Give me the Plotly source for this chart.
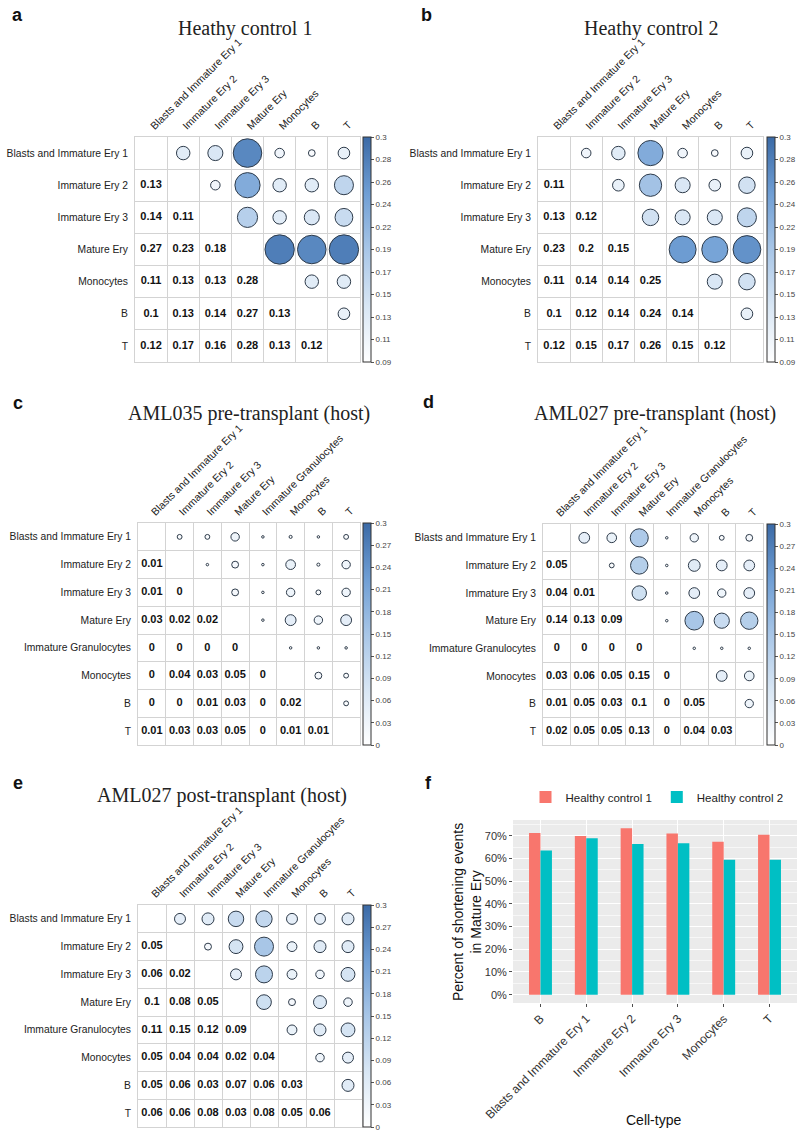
import math
import plotly.graph_objects as go

W, H = 800, 1133

# ---------------- data ----------------
cats7 = ["Blasts and Immature Ery 1", "Immature Ery 2", "Immature Ery 3", "Mature Ery",
         "Monocytes", "B", "T"]
cats8 = ["Blasts and Immature Ery 1", "Immature Ery 2", "Immature Ery 3", "Mature Ery",
         "Immature Granulocytes", "Monocytes", "B", "T"]

# lower-triangle values (row i, columns 0..i-1)
hc1_lower = [[], [0.13], [0.14, 0.11], [0.27, 0.23, 0.18], [0.11, 0.13, 0.13, 0.28],
             [0.10, 0.13, 0.14, 0.27, 0.13], [0.12, 0.17, 0.16, 0.28, 0.13, 0.12]]
hc2_lower = [[], [0.11], [0.13, 0.12], [0.23, 0.20, 0.15], [0.11, 0.14, 0.14, 0.25],
             [0.10, 0.12, 0.14, 0.24, 0.14], [0.12, 0.15, 0.17, 0.26, 0.15, 0.12]]
aml035_pre_lower = [[], [0.01], [0.01, 0.0], [0.03, 0.02, 0.02], [0.0, 0.0, 0.0, 0.0],
                    [0.004, 0.04, 0.03, 0.05, 0.0], [0.0, 0.004, 0.01, 0.03, 0.0, 0.02],
                    [0.01, 0.03, 0.03, 0.05, 0.0, 0.01, 0.01]]
aml027_pre_lower = [[], [0.05], [0.04, 0.01], [0.14, 0.13, 0.09], [0.0, 0.0, 0.0, 0.0],
                    [0.03, 0.06, 0.05, 0.15, 0.0], [0.01, 0.05, 0.03, 0.10, 0.0, 0.05],
                    [0.02, 0.05, 0.05, 0.13, 0.0, 0.04, 0.03]]
aml027_post_lower = [[], [0.05], [0.06, 0.02], [0.10, 0.08, 0.05], [0.11, 0.15, 0.12, 0.09],
                     [0.05, 0.04, 0.04, 0.02, 0.04], [0.05, 0.06, 0.03, 0.07, 0.06, 0.03],
                     [0.06, 0.06, 0.08, 0.03, 0.08, 0.05, 0.06]]

cb_ticks_hc = ["0.09", "0.11", "0.13", "0.15", "0.17", "0.19", "0.22", "0.24", "0.26", "0.28", "0.3"]
cb_ticks_aml = ["0", "0.03", "0.06", "0.09", "0.12", "0.15", "0.18", "0.21", "0.24", "0.27", "0.3"]

bar_cats = ["B", "Blasts and Immature Ery 1", "Immature Ery 2", "Immature Ery 3", "Monocytes", "T"]
bar_hc1 = [71.3, 70.0, 73.4, 71.0, 67.4, 70.5]
bar_hc2 = [63.6, 68.9, 66.4, 66.7, 59.5, 59.5]

# ---------------- style ----------------
SANS = "Liberation Sans, Arial, sans-serif"
SERIF = "Liberation Serif, Times New Roman, serif"
CSCALE = [[0, "#FFFFFF"], [0.25, "#D8E6F4"], [0.5, "#A8C6E7"], [0.75, "#6F9ED4"], [1, "#3B6AA6"]]
GRID = "#D3D3D3"

fig = go.Figure()
annotations = []
layout = {}


def px_x(p):
    return p / W


def px_y(p):
    return 1 - p / H


panels = [
    dict(title="Heathy control 1", cats=cats7, lower=hc1_lower, lo=0.09, hi=0.3, ticks=cb_ticks_hc,
         box=(135, 137, 360, 362), tpos=(245, 28), letter="a", lpos=(17, 15), cbx=363),
    dict(title="Heathy control 2", cats=cats7, lower=hc2_lower, lo=0.09, hi=0.3, ticks=cb_ticks_hc,
         box=(538, 137, 763, 362), tpos=(651, 28), letter="b", lpos=(427, 15), cbx=767),
    dict(title="AML035 pre-transplant (host)", cats=cats8, lower=aml035_pre_lower, lo=0.0, hi=0.3,
         ticks=cb_ticks_aml, box=(138, 523, 360, 745), tpos=(249, 413), letter="c", lpos=(18, 403), cbx=363),
    dict(title="AML027 pre-transplant (host)", cats=cats8, lower=aml027_pre_lower, lo=0.0, hi=0.3,
         ticks=cb_ticks_aml, box=(543, 524, 763, 745), tpos=(655, 413), letter="d", lpos=(428, 402), cbx=767),
    dict(title="AML027 post-transplant (host)", cats=cats8, lower=aml027_post_lower, lo=0.0, hi=0.3,
         ticks=cb_ticks_aml, box=(138, 905, 362, 1127), tpos=(222, 795), letter="e", lpos=(18, 783), cbx=363),
]


def fmt(v):
    return f"{round(v, 2):g}"


for k, p in enumerate(panels, start=1):
    cats = p["cats"]
    n = len(cats)
    full = [[None] * n for _ in range(n)]
    for i, row in enumerate(p["lower"]):
        for j, v in enumerate(row):
            full[i][j] = v
            full[j][i] = v
    x0, y0, x1, y1 = p["box"]
    cell = (x1 - x0) / n
    lo, hi = p["lo"], p["hi"]
    xs, ys, vs, sz = [], [], [], []
    tx, ty, tt = [], [], []
    for i in range(n):
        for j in range(n):
            if j > i:
                v = full[i][j]
                xs.append(j)
                ys.append(i)
                vs.append(v)
                frac = max(0.0, (v - lo) / (hi - lo))
                sz.append(max(2.5, cell * 0.96 * math.sqrt(frac)))
            elif j < i:
                tx.append(j)
                ty.append(i)
                tt.append(fmt(full[i][j]))
    suf = "" if k == 1 else str(k)
    cax = "coloraxis" + suf
    fig.add_trace(go.Scatter(
        x=xs, y=ys, mode="markers", xaxis="x" + suf, yaxis="y" + suf,
        marker=dict(size=sz, sizemode="diameter", color=vs, coloraxis=cax,
                    line=dict(color="#2E3B4A", width=1), opacity=1),
        showlegend=False, hoverinfo="skip"))
    fig.add_trace(go.Scatter(
        x=tx, y=ty, mode="text", text=tt, xaxis="x" + suf, yaxis="y" + suf,
        textfont=dict(family=SANS, size=11, color="#111111", weight="bold"),
        showlegend=False, hoverinfo="skip"))
    half = [h + 0.5 for h in range(n - 1)]
    layout["xaxis" + suf] = dict(
        domain=[px_x(x0), px_x(x1)], anchor="y" + suf, side="top", range=[-0.5, n - 0.5],
        tickmode="array", tickvals=list(range(n)), ticktext=cats, tickangle=-45,
        tickfont=dict(family=SANS, size=10.5, color="#222222"), ticks="", showgrid=False,
        zeroline=False, showline=True, mirror=True, linecolor=GRID, linewidth=1,
        minor=dict(tickmode="array", tickvals=half, showgrid=True, gridcolor=GRID, gridwidth=1, ticks=""),
        automargin=False, fixedrange=True)
    layout["yaxis" + suf] = dict(
        domain=[px_y(y1), px_y(y0)], anchor="x" + suf, range=[n - 0.5, -0.5],
        tickmode="array", tickvals=list(range(n)), ticktext=cats,
        tickfont=dict(family=SANS, size=10.3, color="#222222"), ticks="", showgrid=False,
        zeroline=False, showline=True, mirror=True, linecolor=GRID, linewidth=1,
        minor=dict(tickmode="array", tickvals=half, showgrid=True, gridcolor=GRID, gridwidth=1, ticks=""),
        ticklabelstandoff=4, automargin=False, fixedrange=True)
    tickvals = [lo + (hi - lo) * t / 10 for t in range(11)]
    layout[cax] = dict(
        cmin=lo, cmax=hi, colorscale=CSCALE,
        colorbar=dict(x=px_x(p["cbx"]), xanchor="left", y=px_y(y0), yanchor="top",
                      lenmode="pixels", len=y1 - y0, thickness=8, xpad=0, ypad=0,
                      outlinecolor="#333333", outlinewidth=1,
                      tickmode="array", tickvals=tickvals, ticktext=p["ticks"],
                      ticks="outside", ticklen=3, tickcolor="#555555",
                      tickfont=dict(family=SANS, size=8, color="#444444")))
    annotations.append(dict(text=p["title"], x=px_x(p["tpos"][0]), y=px_y(p["tpos"][1]),
                            xref="paper", yref="paper", xanchor="center", yanchor="middle",
                            showarrow=False, font=dict(family=SERIF, size=20, color="#222222")))
    annotations.append(dict(text="<b>" + p["letter"] + "</b>", x=px_x(p["lpos"][0]), y=px_y(p["lpos"][1]),
                            xref="paper", yref="paper", xanchor="center", yanchor="middle",
                            showarrow=False, font=dict(family=SANS, size=18, color="#111111")))

# ---------------- panel f ----------------
fig.add_trace(go.Bar(x=bar_cats, y=bar_hc1, name="Healthy control 1", marker=dict(color="#F8766D", line=dict(width=0)),
                     xaxis="x6", yaxis="y6", hoverinfo="skip"))
fig.add_trace(go.Bar(x=bar_cats, y=bar_hc2, name="Healthy control 2", marker=dict(color="#00BFC4", line=dict(width=0)),
                     xaxis="x6", yaxis="y6", hoverinfo="skip"))

layout["xaxis6"] = dict(
    domain=[px_x(513), px_x(797)], anchor="y6", type="category", range=[-0.6, 5.6],
    tickangle=-45, tickfont=dict(family=SANS, size=12, color="#333333"),
    ticks="outside", ticklen=3, tickcolor="#4D4D4D", showgrid=True, gridcolor="white", gridwidth=1,
    zeroline=False, showline=False, automargin=False, fixedrange=True)
layout["yaxis6"] = dict(
    domain=[px_y(1003), px_y(820)], anchor="x6", range=[-3.67, 77.0],
    tickmode="linear", tick0=0, dtick=10, ticksuffix="%",
    tickfont=dict(family=SANS, size=11, color="#333333"),
    ticks="outside", ticklen=3, tickcolor="#4D4D4D", showgrid=True, gridcolor="white", gridwidth=1.2,
    minor=dict(dtick=5, tick0=0, showgrid=True, gridcolor="#F7F7F7", gridwidth=0.6),
    zeroline=False, showline=False, automargin=False, fixedrange=True)

annotations.append(dict(text="Percent of shortening events<br>in Mature Ery", x=px_x(467), y=px_y(912),
                        xref="paper", yref="paper", xanchor="center", yanchor="middle", textangle=-90,
                        showarrow=False, font=dict(family=SANS, size=14, color="#111111")))
annotations.append(dict(text="Cell-type", x=px_x(653), y=px_y(1120), xref="paper", yref="paper",
                        xanchor="center", yanchor="middle", showarrow=False,
                        font=dict(family=SANS, size=14, color="#111111")))
annotations.append(dict(text="<b>f</b>", x=px_x(428), y=px_y(783), xref="paper", yref="paper",
                        xanchor="center", yanchor="middle", showarrow=False,
                        font=dict(family=SANS, size=18, color="#111111")))

fig.update_layout(
    width=W, height=H, margin=dict(l=0, r=0, t=0, b=0, autoexpand=False),
    paper_bgcolor="white", plot_bgcolor="white",
    bargap=0.5, bargroupgap=0, barmode="group",
    annotations=annotations,
    shapes=[dict(type="rect", xref="x6 domain", yref="y6 domain", x0=0, x1=1, y0=0, y1=1,
                 fillcolor="#EBEBEB", line=dict(width=0), layer="below")],
    legend=dict(orientation="h", x=px_x(657), xanchor="center", y=px_y(797), yanchor="middle",
                font=dict(family=SANS, size=11.5, color="#222222"), bgcolor="rgba(0,0,0,0)",
                itemwidth=30, tracegroupgap=0),
    **layout)

fig.write_html("out.html", config={"displayModeBar": False},
               post_script="document.body.style.margin='0';document.body.style.padding='0';"
                           "document.body.style.overflow='hidden';")
